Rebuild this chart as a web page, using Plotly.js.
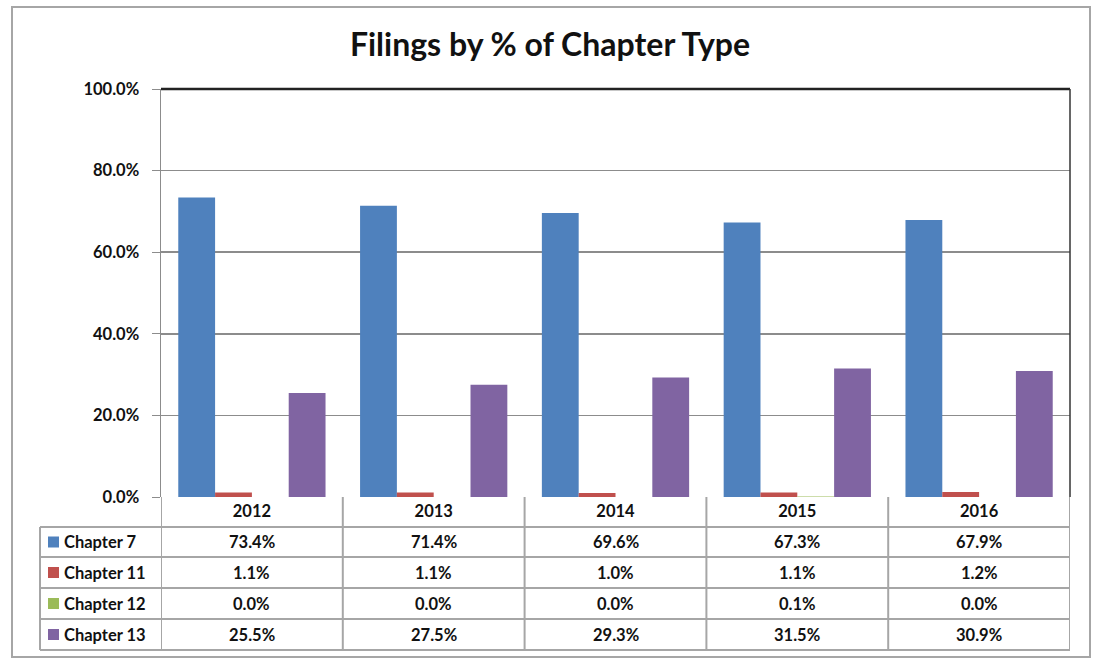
<!DOCTYPE html>
<html>
<head>
<meta charset="utf-8">
<script src="https://cdn.plot.ly/plotly-3.0.1.min.js"></script>
<style>html,body{margin:0;padding:0;background:#fff;}#chart{width:1094px;height:662px;}</style>
</head>
<body>
<div id="chart"></div>
<script>
// ---- data ----
var years = ['2012', '2013', '2014', '2015', '2016'];
var seriesNames = ['Chapter 7', 'Chapter 11', 'Chapter 12', 'Chapter 13'];
var chapter7 = [73.4, 71.4, 69.6, 67.3, 67.9];
var chapter11 = [1.1, 1.1, 1.0, 1.1, 1.2];
var chapter12 = [0.0, 0.0, 0.0, 0.1, 0.0];
var chapter13 = [25.5, 27.5, 29.3, 31.5, 30.9];
var yTicks = [0, 20, 40, 60, 80, 100];

// ---- styles ----
var colors = ['#4F81BD', '#C0504D', '#9BBB59', '#8064A2'];
var FONT = 'Lato, "Open Sans", sans-serif';
var TXT = '#111';
var FS = 16.5;
var W = 1094, H = 662;
var L = 161, R = 1070, T = 89, B = 497;
var pw = R - L, ph = B - T;
function px(x) { return (x - L) / pw; }
function py(y) { return (B - y) / ph; }

var allSeries = [chapter7, chapter11, chapter12, chapter13];
var traces = allSeries.map(function (vals, i) {
  return {
    type: 'bar', x: years, y: vals, name: seriesNames[i],
    marker: {color: colors[i]}, hoverinfo: 'x+y+name'
  };
});

var rowEdges = [497, 527, 557, 588, 619, 650];
var gridCol = '#A6A6A6';
var shapes = [];
// outer frame
shapes.push({type: 'rect', xref: 'paper', yref: 'paper', x0: px(12), x1: px(1090), y0: py(7), y1: py(657),
  line: {color: '#A6A6A6', width: 2}, fillcolor: 'rgba(0,0,0,0)', layer: 'below'});
// top & right plot border (dark)
shapes.push({type: 'line', xref: 'paper', yref: 'paper', x0: 0, x1: 1, y0: 1, y1: 1, line: {color: '#222', width: 2.5}});
shapes.push({type: 'line', xref: 'paper', yref: 'paper', x0: 1, x1: 1, y0: 0, y1: 1, line: {color: '#333', width: 1.5}});
// table horizontal lines
for (var k = 1; k < rowEdges.length; k++) {
  shapes.push({type: 'line', xref: 'paper', yref: 'paper', x0: px(40), x1: 1,
    y0: py(rowEdges[k]), y1: py(rowEdges[k]), line: {color: gridCol, width: 2}});
}
// table column lines
for (var c = 0; c <= years.length; c++) {
  shapes.push({type: 'line', xref: 'x', yref: 'paper', x0: c - 0.5, x1: c - 0.5,
    y0: py(rowEdges[rowEdges.length - 1]), y1: 0, line: {color: gridCol, width: 2}});
}
// legend column left edge
shapes.push({type: 'line', xref: 'paper', yref: 'paper', x0: px(40), x1: px(40),
  y0: py(rowEdges[1]), y1: py(rowEdges[rowEdges.length - 1]), line: {color: gridCol, width: 2}});

var annotations = [];
for (var s = 0; s < seriesNames.length; s++) {
  var yc = py((rowEdges[s + 1] + rowEdges[s + 2]) / 2);
  // legend key square
  shapes.push({type: 'rect', xref: 'paper', yref: 'paper', x0: px(48), x1: px(59),
    y0: yc - 5.5 / ph, y1: yc + 5.5 / ph, fillcolor: colors[s], line: {width: 0}});
  annotations.push({xref: 'paper', yref: 'paper', x: px(62), y: yc, xanchor: 'left', yanchor: 'middle',
    text: seriesNames[s], showarrow: false, font: {family: FONT, size: FS, weight: 'bold', color: TXT}});
  for (var j = 0; j < years.length; j++) {
    annotations.push({xref: 'x', yref: 'paper', x: j, y: yc, xanchor: 'center', yanchor: 'middle',
      text: allSeries[s][j].toFixed(1) + '%', showarrow: false,
      font: {family: FONT, size: FS, weight: 'bold', color: TXT}});
  }
}

var layout = {
  width: W, height: H, autosize: false,
  paper_bgcolor: '#fff', plot_bgcolor: '#fff',
  margin: {l: L, r: W - R, t: T, b: H - B, pad: 0},
  showlegend: false,
  barmode: 'group', bargap: 0.19, bargroupgap: 0,
  title: {text: 'Filings by % of Chapter Type', font: {family: FONT, size: 32, weight: 'bold', color: TXT},
    xref: 'container', yref: 'container', x: 550 / W, xanchor: 'center', y: 1 - 45 / H, yanchor: 'middle'},
  xaxis: {type: 'category', range: [-0.5, 4.5], showgrid: false, zeroline: false, showline: false, ticks: '',
    tickfont: {family: FONT, size: FS, weight: 'bold', color: TXT}, ticklabelstandoff: 2},
  yaxis: {range: [0, 100], tickvals: yTicks, ticktext: yTicks.map(function (v) { return v.toFixed(1) + '%'; }),
    showgrid: true, gridcolor: '#8C8C8C', gridwidth: 1.5, zeroline: false,
    showline: true, linecolor: '#8C8C8C', linewidth: 1.5, ticks: 'outside', ticklen: 8, tickcolor: '#8C8C8C',
    tickfont: {family: FONT, size: FS, weight: 'bold', color: TXT}, ticklabelstandoff: 9},
  shapes: shapes, annotations: annotations
};

Plotly.newPlot('chart', traces, layout, {displayModeBar: false, staticPlot: true});
</script>
</body>
</html>
